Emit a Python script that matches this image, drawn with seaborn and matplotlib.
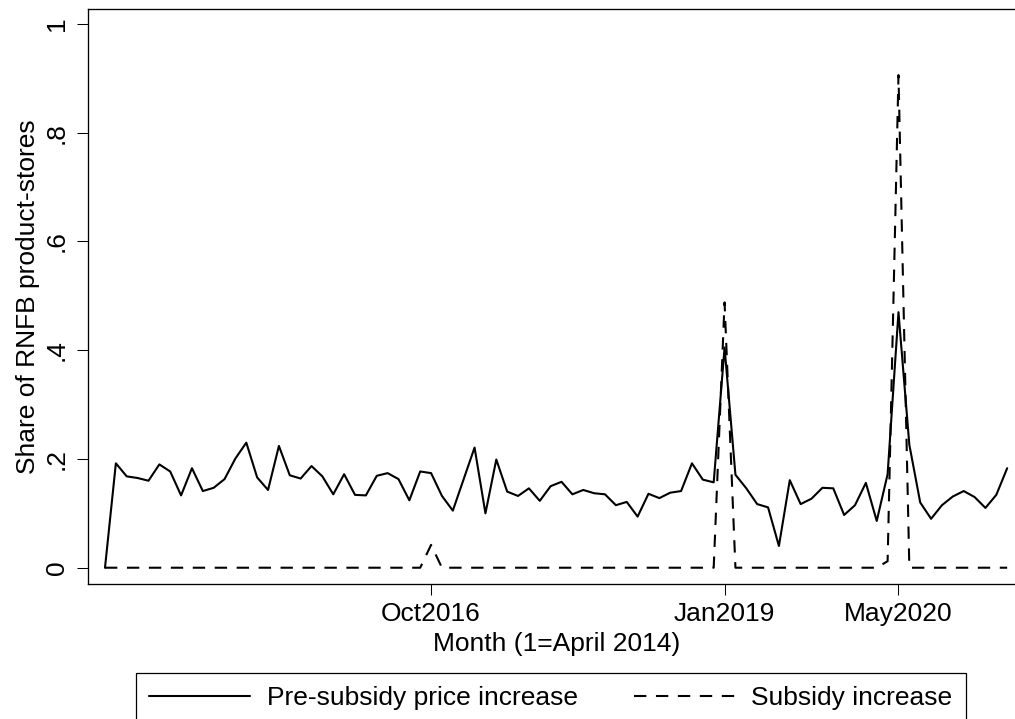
import matplotlib
matplotlib.use('Agg')
import matplotlib.pyplot as plt
import seaborn as sns
import pandas as pd

sns.set_theme(style='white')
plt.rcParams['font.family'] = ['Liberation Sans', 'DejaVu Sans']
plt.rcParams['lines.scale_dashes'] = False

# ---- data ----
months = list(range(1, 85))
pre_subsidy = [0.000, 0.192, 0.168, 0.165, 0.160, 0.190, 0.177, 0.133, 0.183, 0.141,
               0.147, 0.163, 0.201, 0.230, 0.166, 0.143, 0.224, 0.170, 0.164, 0.187,
               0.168, 0.135, 0.172, 0.134, 0.133, 0.169, 0.174, 0.163, 0.124, 0.177,
               0.174, 0.132, 0.105, 0.163, 0.221, 0.100, 0.199, 0.140, 0.132, 0.146,
               0.123, 0.150, 0.158, 0.135, 0.143, 0.137, 0.135, 0.115, 0.121, 0.094,
               0.136, 0.128, 0.138, 0.141, 0.192, 0.162, 0.157, 0.405, 0.171, 0.146,
               0.117, 0.111, 0.040, 0.161, 0.117, 0.127, 0.147, 0.146, 0.097, 0.115,
               0.156, 0.086, 0.172, 0.470, 0.226, 0.120, 0.090, 0.115, 0.131, 0.141,
               0.130, 0.110, 0.134, 0.183]
subsidy = [0.0] * 30 + [0.042] + [0.0] * 26 + [0.488] + [0.0] * 14 + [0.012, 0.906] + [0.0] * 10

x_tick_months = [31, 58, 74]
x_tick_labels = ['Oct2016', 'Jan2019', 'May2020']
y_ticks = [0, 0.2, 0.4, 0.6, 0.8, 1.0]
y_tick_labels = ['0', '.2', '.4', '.6', '.8', '1']

df = pd.DataFrame({'month': months, 'pre': pre_subsidy, 'sub': subsidy})

FS = 19

fig = plt.figure(figsize=(10.15, 7.19), dpi=100)
ax = fig.add_axes([88.3 / 1015, 1 - 584.3 / 719, (1015 - 88.3) / 1015, (584.3 - 9.5) / 719])

sns.lineplot(data=df, x='month', y='pre', ax=ax, color='black', linewidth=1.5,
             label='Pre-subsidy price increase')
sns.lineplot(data=df, x='month', y='sub', ax=ax, color='black', linewidth=1.5,
             linestyle=(0, (8.9, 6.9)), label='Subsidy increase')

ax.set_xlim(-0.536, 84.72)
ax.set_ylim(-0.0305, 1.0267)
ax.set_xticks(x_tick_months)
ax.set_xticklabels(x_tick_labels)
ax.set_yticks(y_ticks)
ax.set_yticklabels(y_tick_labels, rotation=90, va='center')

ax.tick_params(axis='both', direction='out', length=7.9, width=0.75, color='black',
               labelsize=FS, labelcolor='black', bottom=True, left=True)
ax.tick_params(axis='x', pad=4.5)
ax.tick_params(axis='y', pad=6)

for side in ['left', 'bottom', 'top']:
    ax.spines[side].set_color('black')
    ax.spines[side].set_linewidth(0.95)
ax.spines['right'].set_visible(False)
ax.grid(False)

ax.set_xlabel('Month (1=April 2014)', fontsize=FS, color='black')
ax.xaxis.set_label_coords(0.505, -0.083)
ax.set_ylabel('Share of RNFB product-stores', fontsize=FS, color='black')
ax.yaxis.set_label_coords(-0.0521, 0.5)

leg = ax.legend(loc='upper left', bbox_to_anchor=(135.75 / 1015, 1 - 673.1 / 719),
                bbox_transform=fig.transFigure, ncol=2, frameon=True, fancybox=False,
                edgecolor='black', framealpha=1, borderpad=0.5, borderaxespad=0,
                handlelength=3.83, handletextpad=0.63, columnspacing=2.12, fontsize=FS)
leg.get_frame().set_linewidth(0.9)
for t in leg.get_texts():
    t.set_color('black')

fig.savefig('out.png', dpi=100)
